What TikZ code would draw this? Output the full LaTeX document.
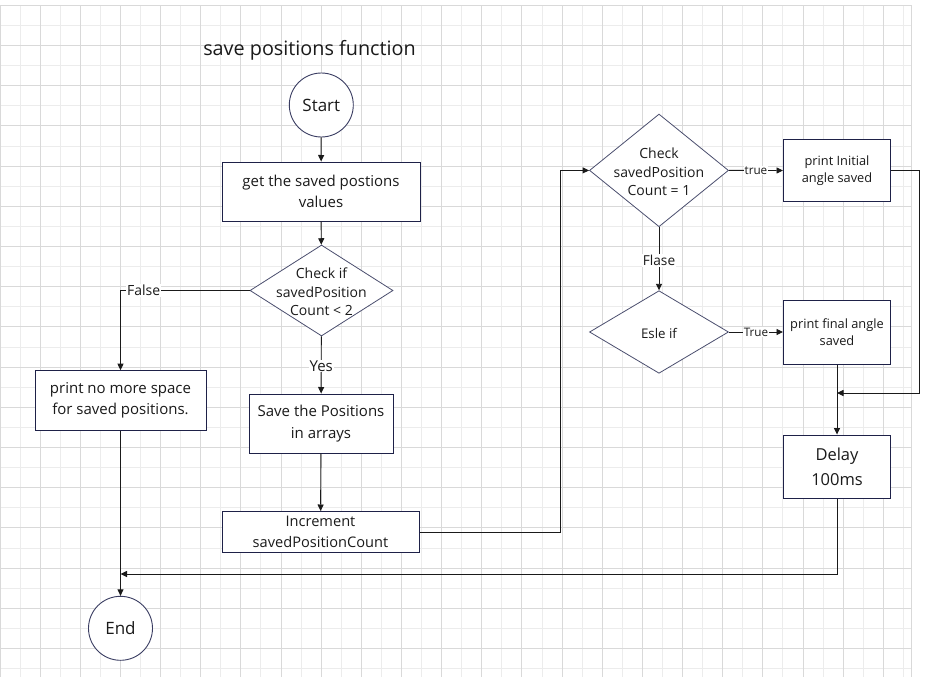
\documentclass[tikz,border=0pt]{standalone}
\usepackage{fontspec}
\setmainfont{Open Sans}
\usetikzlibrary{shapes.geometric,arrows.meta}
\definecolor{gridlight}{HTML}{ECECEC}
\definecolor{griddark}{HTML}{D9D9D9}
\definecolor{nodeline}{HTML}{1E2148}
\definecolor{diamline}{HTML}{4A4E6E}
\definecolor{circline}{HTML}{3A3D62}
\definecolor{connc}{HTML}{1A1A1A}
\definecolor{txt}{HTML}{1A1A1A}
\begin{document}
\begin{tikzpicture}[x=1pt,y=-1pt,
  box/.style={rectangle,draw=nodeline,line width=1pt,fill=white,inner sep=0pt,align=center,text=txt},
  dia/.style={diamond,draw=diamline,line width=0.8pt,fill=white,inner sep=0pt},
  dtext/.style={align=center,inner sep=0pt,text=txt,font=\fontsize{14}{18.5}\selectfont},
  term/.style={circle,draw=circline,line width=0.9pt,fill=white,inner sep=0pt,minimum size=64pt,text=txt,font=\fontsize{17}{20}\selectfont},
  conn/.style={draw=connc,line width=0.9pt},
  arr/.style={conn,-{Triangle[length=6.5pt,width=6pt]}},
  lbl/.style={fill=white,inner sep=1pt,text=txt},
  fmain/.style={font=\fontsize{15}{21.5}\selectfont},
  fsmall/.style={font=\fontsize{12.8}{17.5}\selectfont}
]
\useasboundingbox (0,0) rectangle (928,677);
\fill[white] (0,0) rectangle (928,677);
% grid
\foreach \k in {1,3,...,45} \draw[gridlight,line width=1pt] ({20.075*\k},5.3) -- ({20.075*\k},677);
\foreach \k in {1,3,...,33} \draw[gridlight,line width=1pt] (0,{5.3+20.1*\k}) -- (911,{5.3+20.1*\k});
\foreach \k in {0,2,...,44} \draw[griddark,line width=1pt] ({20.075*\k},5.3) -- ({20.075*\k},677);
\foreach \k in {0,2,...,32} \draw[griddark,line width=1pt] (0,{5.3+20.1*\k}) -- (911,{5.3+20.1*\k});
\draw[griddark,line width=1pt] (911,5.3) -- (911,677);

% title
\node[anchor=base,text=txt,font=\fontsize{19.8}{24}\selectfont,inner sep=0pt] (title) at (309.5,55.5) {save positions function};

% nodes
\node[term] (start) at (321.3,105) {Start};
\node[box,fmain,minimum width=198pt,minimum height=59pt] (get) at (321,191.5) {get the saved postions\\values};
\node[dia,minimum width=143pt,minimum height=91pt] (d1) at (321.5,290.5) {};
\node[dtext] (d1t) at (321.5,292) {Check if\\savedPosition\\Count < 2};
\node[box,fmain,minimum width=171pt,minimum height=59.6pt] (nospace) at (120.5,400.5) {print no more space\\for saved positions.};
\node[box,fmain,minimum width=144pt,minimum height=59pt] (save) at (321,423.5) {Save the Positions\\in arrays};
\node[box,font=\fontsize{14.6}{21}\selectfont,minimum width=197pt,minimum height=41pt] (inc) at (320.5,532) {Increment\\savedPositionCount};
\node[term] (endn) at (120.5,628.3) {End};

\node[dia,minimum width=139pt,minimum height=112.7pt] (d2) at (659,170.4) {};
\node[dtext] (d2t) at (659,172.2) {Check\\savedPosition\\Count = 1};
\node[box,fsmall,minimum width=107pt,minimum height=62pt] (init) at (837,170.5) {print Initial\\angle saved};
\node[dia,minimum width=139pt,minimum height=82.6pt] (d3) at (659,332) {};
\node[dtext,font=\fontsize{13.3}{18}\selectfont] (d3t) at (659,333) {Esle if};
\node[box,fsmall,minimum width=107pt,minimum height=64pt] (final) at (837,332) {print final angle\\saved};
\node[box,font=\fontsize{16.5}{25}\selectfont,minimum width=107.4pt,minimum height=63.3pt] (delay) at (837,466.7) {Delay\\100ms};

% helper coordinates
\coordinate (c1) at (560.5,532);
\coordinate (r1) at (919,393);
\coordinate (j1) at (837,393);
\coordinate (j2) at (120.5,574);

% connectors
\draw[arr] (start) -- (get);
\draw[arr] (get) -- (d1);
\draw[arr] (d1.west) -| (nospace.north) node[lbl,pos=0.41,font=\fontsize{14}{16}\selectfont] (lfalse) {False};
\draw[arr] (d1) -- (save) node[lbl,pos=0.52,font=\fontsize{15}{17}\selectfont] (lyes) {Yes};
\draw[arr] (save) -- (inc);
\draw[arr] (inc.east) -- (c1) |- (d2.west);
\draw[arr] (d2.east) -- (init.west) node[lbl,midway,font=\fontsize{11.7}{14}\selectfont,inner sep=0.5pt] (ltrue) {true};
\draw[arr] (d2.south) -- (d3.north) node[lbl,pos=0.53,font=\fontsize{13.7}{16}\selectfont] (lflase) {Flase};
\draw[arr] (d3.east) -- (final.west) node[lbl,midway,font=\fontsize{11.7}{14}\selectfont,inner sep=0.5pt] (lTrue) {True};
\draw[arr] (init.east) -| (r1) -- (j1);
\draw[arr] (final) -- (delay);
\draw[arr] (delay.south) |- (j2);
\draw[arr] (nospace) -- (endn);
\end{tikzpicture}
\end{document}
